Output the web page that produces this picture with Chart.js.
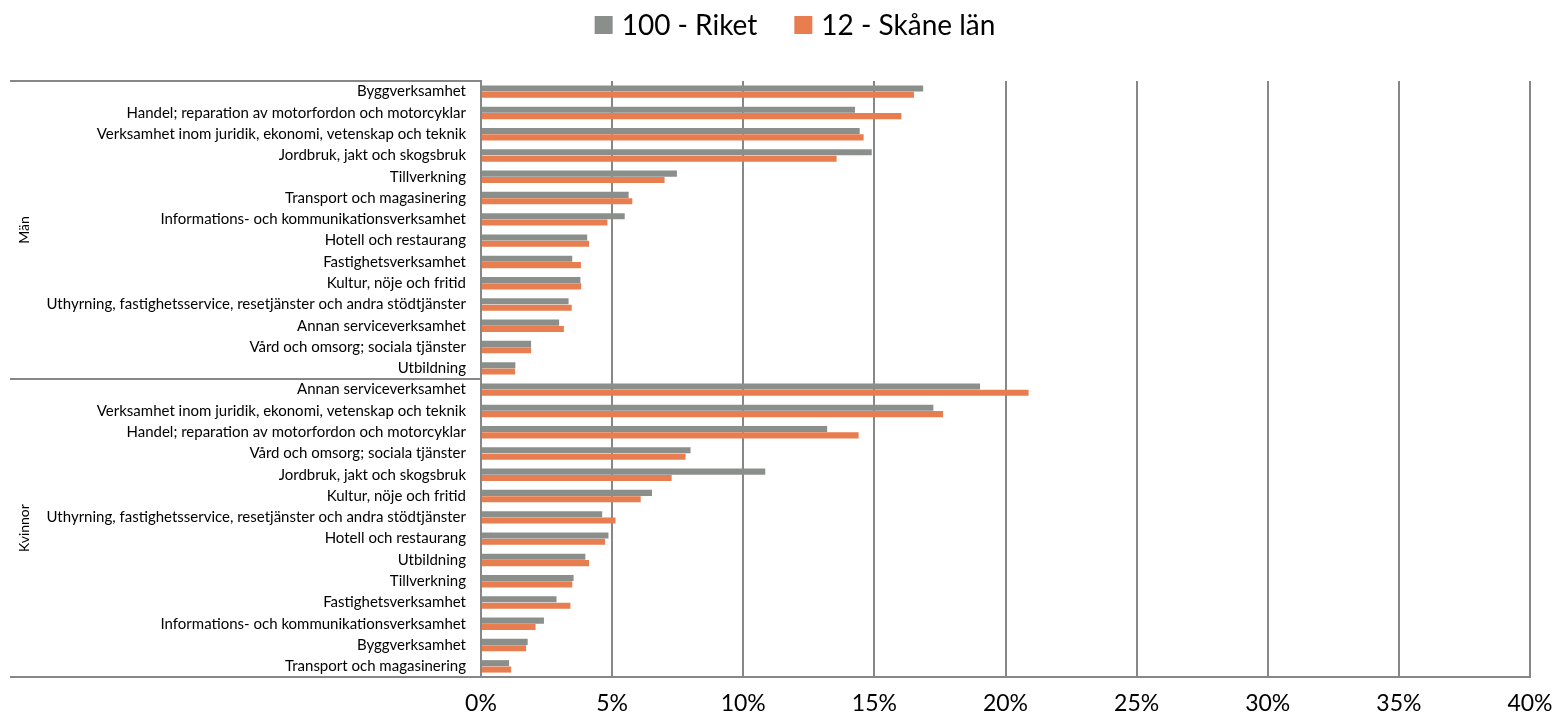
<!DOCTYPE html>
<html>
<head>
<meta charset="utf-8">
<script src="https://cdn.jsdelivr.net/npm/chart.js@4/dist/chart.umd.min.js"></script>
<style>
html,body{margin:0;padding:0;background:#fff;}
#wrap{width:1556px;height:720px;}
</style>
</head>
<body>
<div id="wrap"><canvas id="c" width="1556" height="720"></canvas></div>
<script>
const groups = ["Män", "Kvinnor"];
const menCategories = [
  "Byggverksamhet",
  "Handel; reparation av motorfordon och motorcyklar",
  "Verksamhet inom juridik, ekonomi, vetenskap och teknik",
  "Jordbruk, jakt och skogsbruk",
  "Tillverkning",
  "Transport och magasinering",
  "Informations- och kommunikationsverksamhet",
  "Hotell och restaurang",
  "Fastighetsverksamhet",
  "Kultur, nöje och fritid",
  "Uthyrning, fastighetsservice, resetjänster och andra stödtjänster",
  "Annan serviceverksamhet",
  "Vård och omsorg; sociala tjänster",
  "Utbildning"
];
const womenCategories = [
  "Annan serviceverksamhet",
  "Verksamhet inom juridik, ekonomi, vetenskap och teknik",
  "Handel; reparation av motorfordon och motorcyklar",
  "Vård och omsorg; sociala tjänster",
  "Jordbruk, jakt och skogsbruk",
  "Kultur, nöje och fritid",
  "Uthyrning, fastighetsservice, resetjänster och andra stödtjänster",
  "Hotell och restaurang",
  "Utbildning",
  "Tillverkning",
  "Fastighetsverksamhet",
  "Informations- och kommunikationsverksamhet",
  "Byggverksamhet",
  "Transport och magasinering"
];
const riketMen   = [16.86, 14.26, 14.44, 14.90, 7.47, 5.63, 5.48, 4.05, 3.48, 3.79, 3.34, 2.98, 1.91, 1.31];
const skaneMen   = [16.51, 16.03, 14.59, 13.56, 7.00, 5.77, 4.82, 4.12, 3.81, 3.82, 3.46, 3.16, 1.91, 1.30];
const riketWomen = [19.03, 17.25, 13.20, 7.99, 10.84, 6.52, 4.62, 4.86, 3.98, 3.53, 2.88, 2.40, 1.78, 1.07];
const skaneWomen = [20.88, 17.62, 14.40, 7.80, 7.27, 6.09, 5.13, 4.73, 4.12, 3.48, 3.41, 2.08, 1.72, 1.15];
const seriesNames = ["100 - Riket", "12 - Skåne län"];
const seriesColors = ["#8B8F8C", "#E87D4F"];
const xTicks = [0, 5, 10, 15, 20, 25, 30, 35, 40];

const labels = menCategories.concat(womenCategories);
const riket = riketMen.concat(riketWomen);
const skane = skaneMen.concat(skaneWomen);

const GRID = '#878787';
const FONT = "Lato, 'Open Sans', sans-serif";

const groupPlugin = {
  id: 'groupPlugin',
  afterDraw(chart) {
    const ctx = chart.ctx;
    const y = chart.scales.y;
    const area = chart.chartArea;
    const left = 10;
    const nMen = menCategories.length;
    const sep = (y.getPixelForValue(nMen - 1) + y.getPixelForValue(nMen)) / 2;
    ctx.save();
    ctx.strokeStyle = GRID;
    ctx.lineWidth = 2;
    ctx.beginPath();
    ctx.moveTo(left, area.top); ctx.lineTo(area.left, area.top);
    ctx.moveTo(left, sep); ctx.lineTo(area.left, sep);
    ctx.moveTo(left, area.bottom); ctx.lineTo(area.left, area.bottom);
    ctx.stroke();
    ctx.fillStyle = '#000';
    ctx.font = "14px " + FONT;
    ctx.textAlign = 'center';
    ctx.textBaseline = 'middle';
    const centers = [(area.top + sep) / 2, (sep + area.bottom) / 2];
    groups.forEach((g, i) => {
      ctx.save();
      ctx.translate(24, centers[i]);
      ctx.rotate(-Math.PI / 2);
      ctx.fillText(g, 0, 0);
      ctx.restore();
    });
    ctx.restore();
  }
};

const legendPlugin = {
  id: 'customLegend',
  afterDraw(chart) {
    const ctx = chart.ctx;
    ctx.save();
    ctx.font = "28px " + FONT;
    ctx.textBaseline = 'middle';
    ctx.textAlign = 'left';
    const box = 18, gap = 9, itemGap = 37, cy = 25, cx = 795;
    const items = chart.data.datasets.map(ds => ({ text: ds.label, color: ds.backgroundColor, w: ctx.measureText(ds.label).width }));
    let total = 0;
    items.forEach((it, i) => { total += box + gap + it.w + (i ? itemGap : 0); });
    let x = cx - total / 2;
    items.forEach(it => {
      ctx.fillStyle = it.color;
      ctx.fillRect(x, cy - box / 2, box, box);
      ctx.fillStyle = '#000';
      ctx.fillText(it.text, x + box + gap, cy + 1);
      x += box + gap + it.w + itemGap;
    });
    ctx.restore();
  }
};

new Chart(document.getElementById('c'), {
  type: 'bar',
  data: {
    labels: labels,
    datasets: [
      { label: seriesNames[0], data: riket, backgroundColor: seriesColors[0], categoryPercentage: 0.6, barPercentage: 0.95 },
      { label: seriesNames[1], data: skane, backgroundColor: seriesColors[1], categoryPercentage: 0.6, barPercentage: 0.95 }
    ]
  },
  options: {
    indexAxis: 'y',
    responsive: false,
    devicePixelRatio: 1,
    animation: false,
    layout: { padding: { left: 0, right: 26, top: 81, bottom: 0 } },
    plugins: {
      legend: { display: false },
      title: { display: false },
      tooltip: { enabled: false }
    },
    scales: {
      x: {
        min: 0, max: 40,
        afterBuildTicks(scale) { scale.ticks = xTicks.map(v => ({ value: v })); },
        ticks: {
          callback: v => v + '%',
          font: { family: FONT, size: 23 },
          color: '#000',
          padding: 13,
          maxRotation: 0
        },
        grid: { color: GRID, lineWidth: 2, drawTicks: false },
        border: { color: GRID, width: 2 },
        afterFit(scale) { scale.height = 43; scale.paddingLeft = 0; scale.paddingRight = 0; }
      },
      y: {
        ticks: {
          font: { family: FONT, size: 15 },
          color: '#000',
          padding: 15,
          autoSkip: false
        },
        grid: { display: false, drawTicks: false },
        border: { color: GRID, width: 2 },
        afterFit(scale) { scale.width = 481; scale.paddingTop = 0; scale.paddingBottom = 0; }
      }
    }
  },
  plugins: [groupPlugin, legendPlugin]
});
</script>
</body>
</html>
